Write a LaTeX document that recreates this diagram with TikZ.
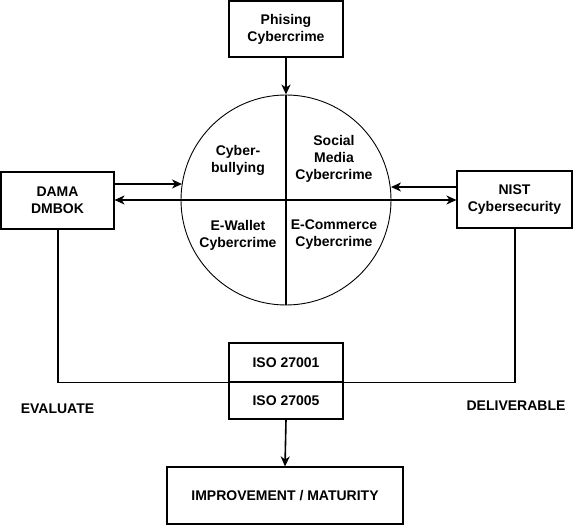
\documentclass[tikz,border=0pt]{standalone}
\usepackage{fontspec}
\setmainfont{Liberation Sans}
\usetikzlibrary{arrows.meta}
\tikzset{
  box/.style={draw, line width=1.1pt, rectangle, inner sep=0pt, align=center,
    font=\fontsize{14}{17}\selectfont\bfseries},
  lbl/.style={inner sep=0pt, align=center, font=\fontsize{14}{17}\selectfont\bfseries},
  conn/.style={line width=1.6pt},
  arr/.style={line width=1.6pt, -{Stealth[length=10pt,width=9pt,inset=3pt]}},
}
\begin{document}
\begin{tikzpicture}[x=1pt,y=-1pt]
\useasboundingbox (0,0) rectangle (578,526);
% boxes
\node[box, minimum width=114pt, minimum height=56pt] (phis) at (286,29) {Phising\\Cybercrime};
\node[box, minimum width=113pt, minimum height=57pt] (dama) at (57.5,200.5) {DAMA\\DMBOK};
\node[box, minimum width=115pt, minimum height=57pt] (nist) at (514.5,199.5) {NIST\\Cybersecurity};
\node[box, minimum width=114pt, minimum height=39pt] (iso1) at (286,362.5) {ISO 27001};
\node[box, minimum width=114pt, minimum height=37pt] (iso2) at (286,400.5) {ISO 27005};
\node[box, minimum width=236pt, minimum height=57pt] (imp) at (285,495.5) {IMPROVEMENT / MATURITY};
% circle
\node[draw, circle, line width=0.9pt, minimum size=210pt, inner sep=0pt] (circ) at (286,200) {};
\draw[line width=1.1pt] (circ.north) -- (circ.south);
\draw[line width=1.1pt] (circ.west) -- (circ.east);
% circle texts
\node[lbl] (q1) at (238,160) {Cyber-\\bullying};
\node[lbl] (q2) at (334,159) {Social\\Media\\Cybercrime};
\node[lbl] (q3) at (238,235) {E-Wallet\\Cybercrime};
\node[lbl] (q4) at (334,235) {E-Commerce\\Cybercrime};
% arrow end points on the circle
\coordinate (cl) at (182,184);
\coordinate (cr) at (391,187);
% arrows
\draw[arr] (phis.south) -- (circ.north);
\draw[arr] (dama.east |- cl) -- (cl);
\draw[arr] (circ.west) -- (dama.east |- circ.west);
\draw[arr] (nist.west |- cr) -- (cr);
\draw[arr] (circ.east) -- (nist.west |- circ.east);
\draw[arr] (iso2.south) -- (imp.north);
% side connectors
\draw[conn] (dama.south) ++(0.5,0) |- (iso1.south west);
\draw[conn] (nist.south) ++(0.5,0) |- (iso1.south east);
% labels
\node[lbl] (eval) at (57.5,409) {EVALUATE};
\node[lbl] (deliv) at (516,406) {DELIVERABLE};
\end{tikzpicture}
\end{document}
